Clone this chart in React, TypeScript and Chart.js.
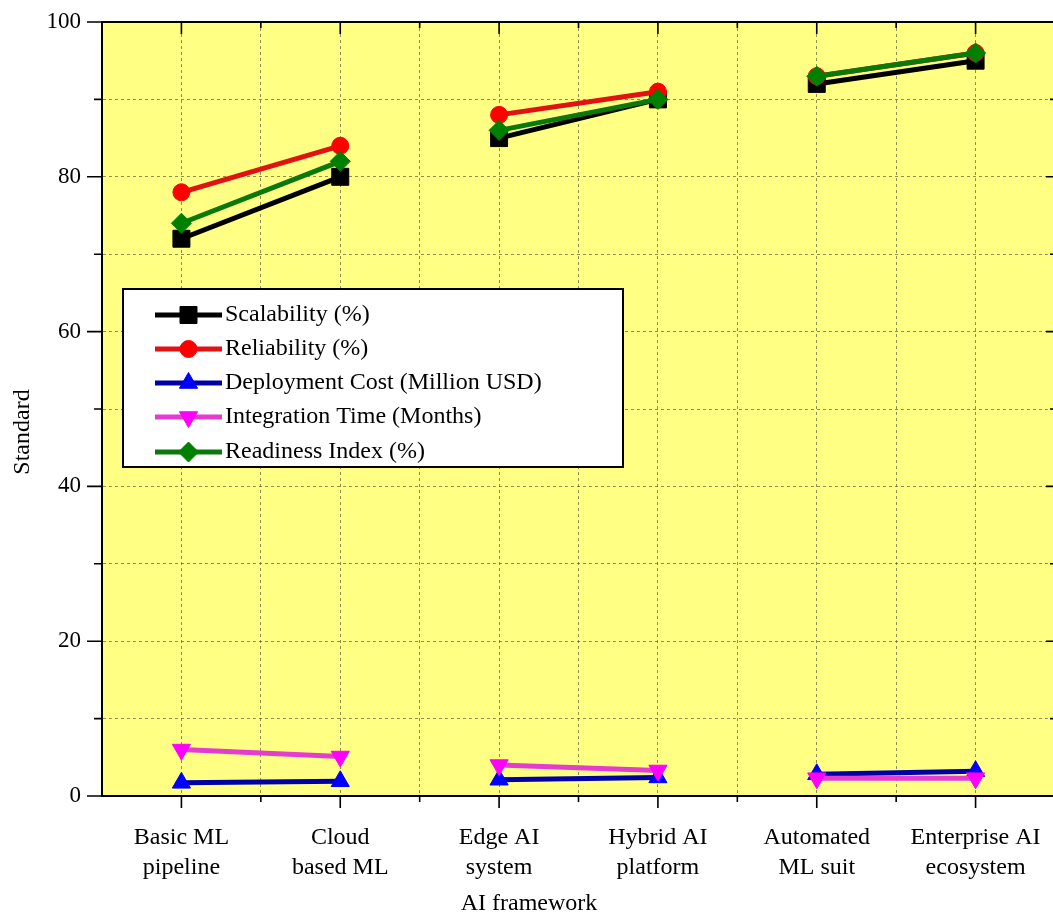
import React, { useEffect, useRef } from 'react';
import { Chart, registerables } from 'chart.js';

Chart.register(...registerables);

// ---- data ----
const categoryLines: string[][] = [
  ['Basic ML', 'pipeline'],
  ['Cloud', 'based ML'],
  ['Edge AI', 'system'],
  ['Hybrid AI', 'platform'],
  ['Automated', 'ML suit'],
  ['Enterprise AI', 'ecosystem'],
];
const scalability = [72, 80, 85, 90, 92, 95];
const reliability = [78, 84, 88, 91, 93, 96];
const deploymentCost = [1.7, 1.9, 2.1, 2.4, 2.8, 3.2];
const integrationTime = [6.0, 5.1, 4.0, 3.3, 2.3, 2.3];
const readinessIndex = [74, 82, 86, 90, 93, 96];
const yTickLabels = [0, 20, 40, 60, 80, 100];
const yGridValues = [0, 10, 20, 30, 40, 50, 60, 70, 80, 90, 100];
const xTitle = 'AI framework';
const yTitle = 'Standard';

const SERIF = '"Liberation Serif", "Times New Roman", serif';

export default function App() {
  const ref = useRef<HTMLCanvasElement>(null);

  useEffect(() => {
    if (!ref.current) return;
    const series = [
      { label: 'Scalability (%)', data: scalability, line: '#000000', fill: '#000000', style: 'rect', radius: 12, rotation: 0 },
      { label: 'Reliability (%)', data: reliability, line: '#e01212', fill: '#ff0000', style: 'circle', radius: 8.5, rotation: 0 },
      { label: 'Deployment Cost (Million USD)', data: deploymentCost, line: '#0000a8', fill: '#0000ff', style: 'triangle', radius: 10.5, rotation: 0 },
      { label: 'Integration Time (Months)', data: integrationTime, line: '#e43cd0', fill: '#ff00ff', style: 'triangle', radius: 10.5, rotation: 180 },
      { label: 'Readiness Index (%)', data: readinessIndex, line: '#0b780b', fill: '#008000', style: 'rectRot', radius: 10, rotation: 0 },
    ];

    const datasets = series.map((s, i) => ({
      label: s.label,
      data: s.data.map((v, j) => ({ x: j + 1, y: v })),
      borderColor: s.line,
      backgroundColor: s.fill,
      borderWidth: 5,
      pointStyle: s.style as any,
      pointRadius: s.radius,
      pointRotation: s.rotation,
      pointBackgroundColor: s.fill,
      pointBorderColor: s.fill,
      pointBorderWidth: 1,
      tension: 0,
      order: series.length - i,
      segment: {
        borderColor: (ctx: any) => (ctx.p0DataIndex % 2 === 1 ? 'rgba(0,0,0,0)' : s.line),
      },
    }));

    function drawMarker(ctx: CanvasRenderingContext2D, style: string, r: number, rot: number, x: number, y: number) {
      ctx.beginPath();
      if (style === 'rect') {
        const s = Math.SQRT1_2 * r;
        ctx.rect(x - s, y - s, 2 * s, 2 * s);
      } else if (style === 'circle') {
        ctx.arc(x, y, r, 0, Math.PI * 2);
      } else if (style === 'triangle') {
        let rad = (rot * Math.PI) / 180;
        ctx.moveTo(x + Math.sin(rad) * r, y - Math.cos(rad) * r);
        rad += (2 * Math.PI) / 3;
        ctx.lineTo(x + Math.sin(rad) * r, y - Math.cos(rad) * r);
        rad += (2 * Math.PI) / 3;
        ctx.lineTo(x + Math.sin(rad) * r, y - Math.cos(rad) * r);
        ctx.closePath();
      } else if (style === 'rectRot') {
        ctx.moveTo(x, y - r);
        ctx.lineTo(x + r, y);
        ctx.lineTo(x, y + r);
        ctx.lineTo(x - r, y);
        ctx.closePath();
      }
      ctx.fill();
      ctx.stroke();
    }

    const bgPlugin = {
      id: 'bg',
      beforeDraw(chart: any) {
        const { ctx, chartArea: a } = chart;
        ctx.save();
        ctx.fillStyle = '#ffff84';
        ctx.fillRect(a.left, a.top, a.right - a.left, a.bottom - a.top);
        ctx.restore();
      },
    };

    const framePlugin = {
      id: 'frame',
      afterDraw(chart: any) {
        const { ctx, chartArea: a, scales } = chart;
        const xs = scales.x;
        const ys = scales.y;
        ctx.save();
        ctx.strokeStyle = '#000';
        ctx.lineWidth = 2;
        ctx.beginPath();
        ctx.moveTo(a.left, a.top);
        ctx.lineTo(a.right, a.top);
        ctx.lineTo(a.right, a.bottom);
        ctx.stroke();
        ctx.lineWidth = 1.6;
        // x ticks + labels
        for (let v = 1; v <= 6; v += 0.5) {
          const px = xs.getPixelForValue(v);
          const major = Number.isInteger(v);
          const len = major ? 12 : 6;
          ctx.beginPath();
          ctx.moveTo(px, a.bottom);
          ctx.lineTo(px, a.bottom + len);
          ctx.moveTo(px, a.top);
          ctx.lineTo(px, a.top + len);
          ctx.stroke();
        }
        ctx.fillStyle = '#000';
        ctx.font = `24px ${SERIF}`;
        ctx.textAlign = 'center';
        ctx.textBaseline = 'middle';
        categoryLines.forEach((lines, i) => {
          const px = xs.getPixelForValue(i + 1);
          lines.forEach((t, k) => ctx.fillText(t, px, a.bottom + 42 + k * 30));
        });
        // y ticks + labels
        ctx.font = `23px ${SERIF}`;
        ctx.textAlign = 'right';
        yGridValues.forEach((v) => {
          const py = ys.getPixelForValue(v);
          const major = yTickLabels.includes(v);
          const len = major ? 15 : 8;
          ctx.beginPath();
          ctx.moveTo(a.left - len, py);
          ctx.lineTo(a.left, py);
          ctx.moveTo(a.right, py);
          ctx.lineTo(a.right - (major ? 9 : 5), py);
          ctx.stroke();
          if (major) ctx.fillText(String(v), a.left - 21, py);
        });

        // legend
        const bx = 123, by = 289, bw = 500, bh = 178;
        ctx.fillStyle = '#ffffff';
        ctx.fillRect(bx, by, bw, bh);
        ctx.lineWidth = 2;
        ctx.strokeStyle = '#000';
        ctx.strokeRect(bx, by, bw, bh);
        const rows = [315, 349, 383, 417, 452];
        series.forEach((s, i) => {
          const y = rows[i];
          ctx.save();
          ctx.strokeStyle = s.line;
          ctx.lineWidth = 5;
          ctx.beginPath();
          ctx.moveTo(155, y);
          ctx.lineTo(222, y);
          ctx.stroke();
          ctx.restore();
          ctx.save();
          ctx.fillStyle = s.fill;
          ctx.strokeStyle = s.fill;
          ctx.lineWidth = 1;
          drawMarker(ctx, s.style, s.radius, s.rotation, 188.5, y);
          ctx.restore();
          ctx.fillStyle = '#000';
          ctx.font = `24px ${SERIF}`;
          ctx.textAlign = 'left';
          ctx.textBaseline = 'middle';
          ctx.fillText(s.label, 225, y);
        });

        // axis titles
        ctx.fillStyle = '#000';
        ctx.font = `24px ${SERIF}`;
        ctx.textAlign = 'center';
        ctx.textBaseline = 'alphabetic';
        ctx.fillText(xTitle, 529, 910);
        ctx.save();
        ctx.translate(29, 432);
        ctx.rotate(-Math.PI / 2);
        ctx.fillText(yTitle, 0, 0);
        ctx.restore();
        ctx.restore();
      },
    };

    const gridColor = 'rgba(95,95,60,0.7)';

    const chart = new Chart(ref.current, {
      type: 'line',
      data: { datasets: datasets as any },
      plugins: [bgPlugin, framePlugin],
      options: {
        responsive: false,
        animation: false,
        layout: { padding: { left: 0, top: 22, right: 0, bottom: 0 } },
        plugins: {
          legend: { display: false },
          tooltip: { enabled: false },
          title: { display: false },
        },
        scales: {
          x: {
            type: 'linear',
            min: 0.5,
            max: 6.5,
            afterBuildTicks: (scale: any) => {
              const t: any[] = [];
              for (let v = 0.5; v <= 6.5; v += 0.5) t.push({ value: v });
              scale.ticks = t;
            },
            afterFit: (scale: any) => {
              scale.height = 118;
            },
            ticks: { display: false },
            grid: {
              drawTicks: false,
              lineWidth: 1,
              color: (ctx: any) => {
                const v = ctx.tick ? ctx.tick.value : 0;
                return v <= 0.5 || v >= 6.5 ? 'rgba(0,0,0,0)' : gridColor;
              },
            },
            border: { display: true, color: '#000', width: 2, dash: [3, 3] },
          },
          y: {
            type: 'linear',
            min: 0,
            max: 100,
            afterBuildTicks: (scale: any) => {
              scale.ticks = yGridValues.map((v) => ({ value: v }));
            },
            afterFit: (scale: any) => {
              scale.width = 102;
            },
            ticks: { display: false },
            grid: {
              drawTicks: false,
              lineWidth: 1,
              color: (ctx: any) => {
                const v = ctx.tick ? ctx.tick.value : 0;
                return v <= 0 || v >= 100 ? 'rgba(0,0,0,0)' : gridColor;
              },
            },
            border: { display: true, color: '#000', width: 2, dash: [3, 3] },
          },
        },
      },
    });
    return () => chart.destroy();
  }, []);

  return (
    <div style={{ position: 'absolute', left: 0, top: 0, width: 1053, height: 914, overflow: 'hidden', background: '#fff' }}>
      <canvas ref={ref} width={1068} height={914} style={{ width: 1068, height: 914, display: 'block' }} />
    </div>
  );
}
